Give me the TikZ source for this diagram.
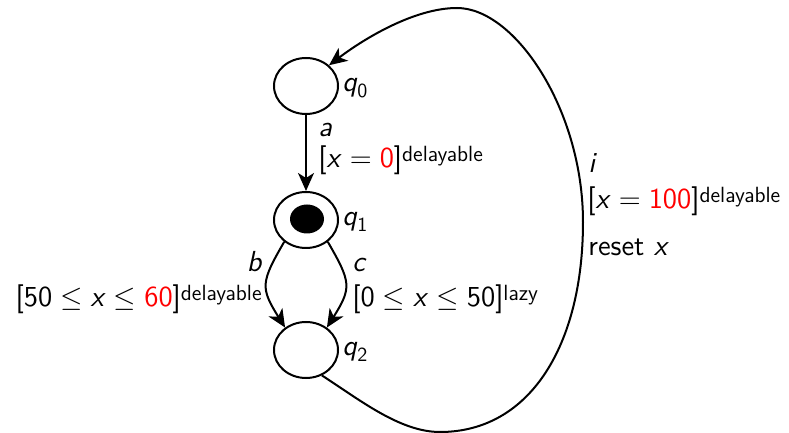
\documentclass[tikz,border=0pt]{standalone}
\usetikzlibrary{arrows.meta,shapes.geometric}
\newcommand\sups[1]{\raisebox{3pt}{\fontsize{11}{11}\selectfont #1}}
\newcommand\vx{\textit{x}}
\newcommand\qn[1]{\textit{q}\raisebox{-3pt}{\fontsize{10}{10}\selectfont #1}}
\begin{document}
\begin{tikzpicture}[x=0.5pt,y=-0.5pt,
  font=\fontsize{14.5}{16}\selectfont\sffamily,
  state/.style={ellipse, draw, line width=1pt, minimum width=32pt, minimum height=28pt, inner sep=0pt},
  dot/.style={ellipse, fill=black, minimum width=17pt, minimum height=14.5pt, inner sep=0pt},
  edge/.style={line width=1pt, -{Stealth[length=9pt,width=8pt,inset=2.5pt]}},
  lbl/.style={inner sep=0pt}]
\useasboundingbox (0,0) rectangle (789,433);
% states
\node[state] (q0) at (306,86) {};
\node[state] (q1) at (306,220) {};
\node[dot] (d1) at (307,219) {};
\node[state] (q2) at (306,350) {};
\node[lbl, anchor=base west] (n0) at (342,92) {\qn{0}};
\node[lbl, anchor=base west] (n1) at (342,226) {\qn{1}};
\node[lbl, anchor=base west] (n2) at (342,356) {\qn{2}};
% edges
\draw[edge] (q0) -- (q1);
\draw[edge] (q1.225) to[out=240, in=122, looseness=1.4] (q2.133);
\draw[edge] (q1.-45) to[out=-60, in=58, looseness=1.4] (q2.47);
\draw[edge] (q2.-58) .. controls (360,400) and (400,432) .. (440,432)
  .. controls (530,432) and (583,345) .. (583,222)
  .. controls (583,110) and (515,8) .. (457,8)
  .. controls (415,8) and (365,38) .. (q0.42);
% labels
\node[lbl, anchor=base west] (la) at (318,137) {\textit{a}};
\node[lbl, anchor=base west] (ga) at (318,168) {[\vx${}={}$\textcolor{red}{0}]\sups{delayable}};
\node[lbl, anchor=base east] (lb) at (263,272) {\textit{b}};
\node[lbl, anchor=base east] (gb) at (262,307) {[50${}\leq{}$\vx${}\leq{}$\textcolor{red}{60}]\sups{delayable}};
\node[lbl, anchor=base west] (lc) at (352,272) {\textit{c}};
\node[lbl, anchor=base west] (gc) at (352,307) {[0${}\leq{}$\vx${}\leq{}$50]\sups{lazy}};
\node[lbl, anchor=base west] (li) at (588,173) {\textit{i}};
\node[lbl, anchor=base west] (gi) at (587,209) {[\vx${}={}$\textcolor{red}{100}]\sups{delayable}};
\node[lbl, anchor=base west] (ri) at (588,256) {reset \vx};
\end{tikzpicture}
\end{document}
